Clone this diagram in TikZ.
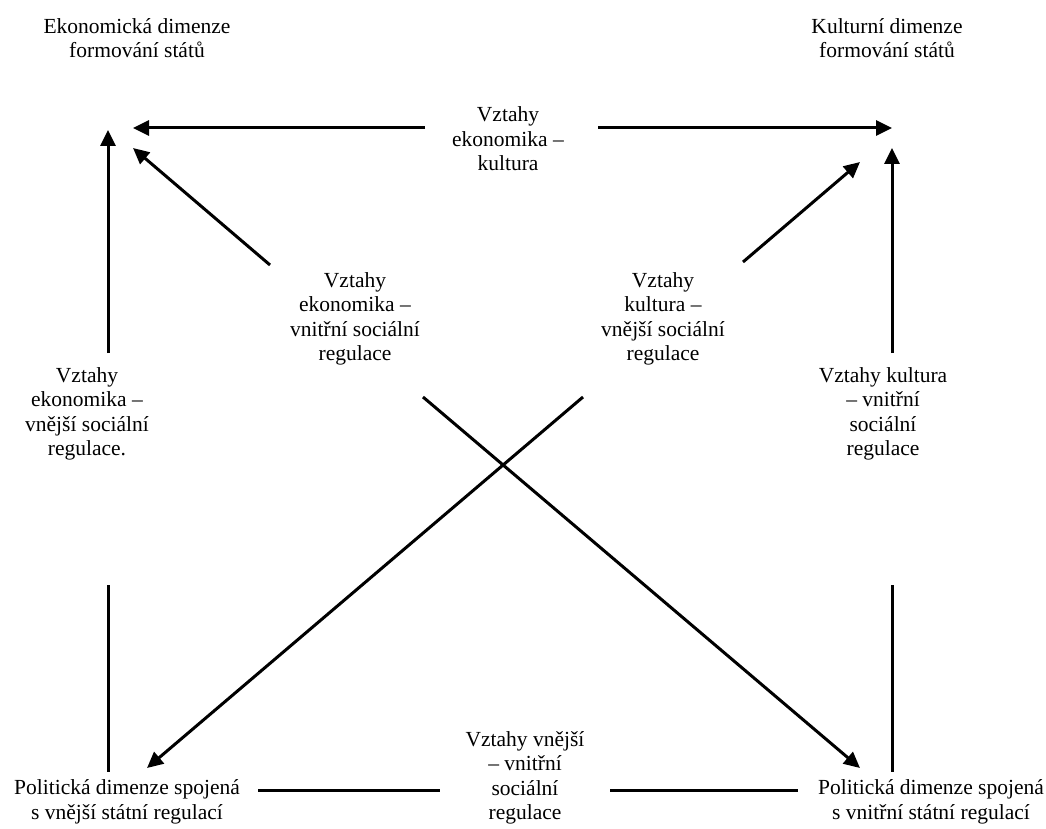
\documentclass[tikz,border=0pt]{standalone}
\usepackage{fontspec}
\setmainfont{Liberation Serif}
\usetikzlibrary{arrows.meta}
\begin{document}
\begin{tikzpicture}[x=1pt,y=-1pt,
  lbl/.style={align=center,inner sep=0pt,font=\fontsize{21.5}{24.5}\selectfont},
  conn/.style={line width=3pt},
  arr/.style={conn,-{Triangle[length=16pt,width=15pt]}}]
\useasboundingbox (0,0) rectangle (1046,829);
% labels
\node[lbl] (econ) at (137,38) {Ekonomická dimenze\\formování států};
\node[lbl] (cult) at (887,38) {Kulturní dimenze\\formování států};
\node[lbl] (topmid) at (508,139) {Vztahy\\ekonomika –\\kultura};
\node[lbl] (leftlab) at (87,414) {Vztahy\\ekonomika –\\vnější sociální\\regulace.};
\node[lbl] (rightlab) at (883,414) {Vztahy kultura\\– vnitřní\\sociální\\regulace};
\node[lbl] (midL) at (355,319) {Vztahy\\ekonomika –\\vnitřní sociální\\regulace};
\node[lbl] (midR) at (663,319) {Vztahy\\kultura –\\vnější sociální\\regulace};
\node[lbl] (botmid) at (525,778) {Vztahy vnější\\– vnitřní\\sociální\\regulace};
\node[lbl] (polL) at (127,802) {Politická dimenze spojená\\s vnější státní regulací};
\node[lbl] (polR) at (931,802) {Politická dimenze spojená\\s vnitřní státní regulací};
% connector end points
\coordinate (tlH) at (133,128);
\coordinate (tlV) at (108,130);
\coordinate (tlD) at (133,148);
\coordinate (trH) at (892,128);
\coordinate (trV) at (892,148);
\coordinate (trD) at (860,162);
\coordinate (blT) at (147,768);
\coordinate (brT) at (860,768);
\coordinate (topmidL) at (425,128);
\coordinate (topmidR) at (598,128);
\coordinate (leftTop) at (108,353);
\coordinate (leftBot1) at (108,585);
\coordinate (leftBot2) at (108,772);
\coordinate (rightTop) at (892,353);
\coordinate (rightBot1) at (892,585);
\coordinate (rightBot2) at (892,772);
\coordinate (midLtop) at (270,265);
\coordinate (midRtop) at (743,262);
\coordinate (midLbot) at (423,397);
\coordinate (midRbot) at (583,397);
\coordinate (botL1) at (258,790);
\coordinate (botL2) at (440,790);
\coordinate (botR1) at (610,790);
\coordinate (botR2) at (798,790);
% connectors
\draw[arr] (topmidL) -- (tlH);
\draw[arr] (topmidR) -- (trH);
\draw[arr] (leftTop) -- (tlV);
\draw[arr] (rightTop) -- (trV);
\draw[arr] (midLtop) -- (tlD);
\draw[arr] (midRtop) -- (trD);
\draw[arr] (midLbot) -- (brT);
\draw[arr] (midRbot) -- (blT);
\draw[conn] (leftBot1) -- (leftBot2);
\draw[conn] (rightBot1) -- (rightBot2);
\draw[conn] (botL1) -- (botL2);
\draw[conn] (botR1) -- (botR2);
\end{tikzpicture}
\end{document}
